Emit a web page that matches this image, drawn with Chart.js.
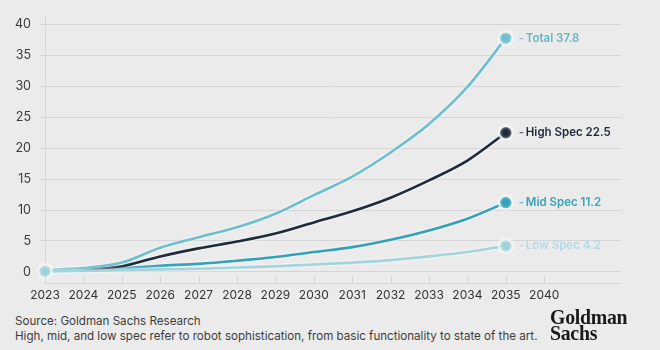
<!DOCTYPE html>
<html>
<head>
<meta charset="utf-8">
<script src="https://cdn.jsdelivr.net/npm/chart.js@4"></script>
<style>
  body { margin: 0; background: #ebebeb; width: 660px; height: 350px; overflow: hidden; font-family: Inter, "Noto Sans", sans-serif; position: relative; }
  #wrap { position: absolute; left: 0; top: 0; width: 660px; height: 305px; }
  .note { position: absolute; left: 15px; color: #3d3d3d; font-size: 11.6px; white-space: nowrap; }
  #logo { position: absolute; left: 550px; top: 309px; font-family: "Liberation Serif", serif; font-weight: bold; font-size: 22px; line-height: 16px; color: #1a1a1a; transform: scaleX(0.9); transform-origin: left top; letter-spacing: -0.3px; }
</style>
</head>
<body>
<div id="wrap"><canvas id="robotChart" width="660" height="305"></canvas></div>
<div class="note" style="top:314px">Source: Goldman Sachs Research</div>
<div class="note" style="top:329px">High, mid, and low spec refer to robot sophistication, from basic functionality to state of the art.</div>
<div id="logo">Goldman<br>Sachs</div>
<script>
// years on the x axis (last slots are empty room on the right)
const years = ['2023','2024','2025','2026','2027','2028','2029','2030','2031','2032','2033','2034','2035','2040','',''];
const yTicks = [0, 5, 10, 15, 20, 25, 30, 35, 40];

// market size, $bn
const total    = [0.3, 0.6, 1.5, 3.9, 5.6, 7.2, 9.4, 12.4, 15.4, 19.3, 23.9, 29.9, 37.8];
const highSpec = [0.2, 0.4, 0.9, 2.5, 3.8, 4.9, 6.2, 8.0, 9.8, 12.0, 14.8, 18.0, 22.5];
const midSpec  = [0.1, 0.3, 0.6, 1.0, 1.3, 1.8, 2.4, 3.2, 4.0, 5.2, 6.7, 8.6, 11.2];
const lowSpec  = [0.1, 0.15, 0.25, 0.4, 0.5, 0.7, 0.9, 1.2, 1.5, 1.9, 2.5, 3.2, 4.2];

const names  = ['Total', 'High Spec', 'Mid Spec', 'Low Spec'];
const lineCols  = ['#6cbfcf', '#1d2b3c', '#32a1b9', '#a3d3dd'];
const labelCols = ['#5fb7c8', '#1f2b3b', '#38a3bb', '#b2dae3'];
const gridCol = '#d5d5d5';

function radiusFn(startDot) {
  return c => {
    const last = c.dataset.data.length - 1;
    if (c.dataIndex === last) return 6.5;
    if (c.dataIndex === 0 && startDot) return 6.5;
    return 0;
  };
}

const series = [total, highSpec, midSpec, lowSpec];
const datasets = series.map((d, i) => ({
  label: names[i],
  data: d,
  borderColor: lineCols[i],
  backgroundColor: i === 3 ? '#9fd1dc' : lineCols[i],
  borderWidth: 2.6,
  tension: 0.35,
  cubicInterpolationMode: 'monotone',
  pointRadius: radiusFn(i === 3),
  pointBorderColor: '#f4f4f4',
  pointBorderWidth: 1.5,
  order: i === 3 ? -1 : i
}));

// soft white halo around the lines
const halo = {
  id: 'halo',
  beforeDatasetDraw(chart) {
    const ctx = chart.ctx;
    ctx.save();
    ctx.shadowColor = 'rgba(255,255,255,0.9)';
    ctx.shadowBlur = 3;
  },
  afterDatasetDraw(chart) {
    chart.ctx.restore();
  }
};

// little upward ticks on the x axis + end labels
const extras = {
  id: 'extras',
  afterDraw(chart) {
    const ctx = chart.ctx;
    const xs = chart.scales.x;
    const bottom = chart.chartArea.bottom;
    ctx.save();
    ctx.strokeStyle = gridCol;
    ctx.lineWidth = 1;
    years.forEach((y, i) => {
      if (!y) return;
      const px = Math.round(xs.getPixelForValue(i)) + 0.5;
      ctx.beginPath();
      ctx.moveTo(px, bottom);
      ctx.lineTo(px, bottom - 7);
      ctx.stroke();
    });
    ctx.font = '600 11.5px Inter, "Noto Sans", sans-serif';
    ctx.textBaseline = 'middle';
    chart.data.datasets.forEach((ds, i) => {
      const meta = chart.getDatasetMeta(i);
      const pt = meta.data[meta.data.length - 1];
      const val = ds.data[ds.data.length - 1];
      ctx.fillStyle = labelCols[i];
      ctx.globalAlpha = 0.7;
      ctx.fillText('-', pt.x + 13, pt.y);
      ctx.globalAlpha = 1;
      ctx.fillText(names[i] + ' ' + val.toFixed(1), pt.x + 20, pt.y);
    });
    ctx.restore();
  }
};

new Chart(document.getElementById('robotChart'), {
  type: 'line',
  data: { labels: years, datasets: datasets },
  options: {
    responsive: false,
    animation: false,
    layout: { padding: { top: 15, right: 39, left: 0, bottom: 0 } },
    plugins: { legend: { display: false }, tooltip: { enabled: false } },
    scales: {
      x: {
        offset: false,
        grid: { display: false, drawTicks: false },
        border: { display: true, color: gridCol },
        ticks: { autoSkip: false, maxRotation: 0, padding: 5, color: '#333', font: { family: 'Inter', size: 12 } },
        afterFit(s) { s.height = 22; }
      },
      y: {
        min: -1.8,
        max: 41.3,
        afterBuildTicks(s) { s.ticks = yTicks.map(v => ({ value: v })); },
        grid: { color: gridCol, tickLength: 5 },
        border: { display: true, color: gridCol },
        ticks: { padding: 9, color: '#3a3a3a', font: { family: 'Inter', size: 12.5 } },
        afterFit(s) { s.width = 45; }
      }
    }
  },
  plugins: [halo, extras]
});
</script>
</body>
</html>
